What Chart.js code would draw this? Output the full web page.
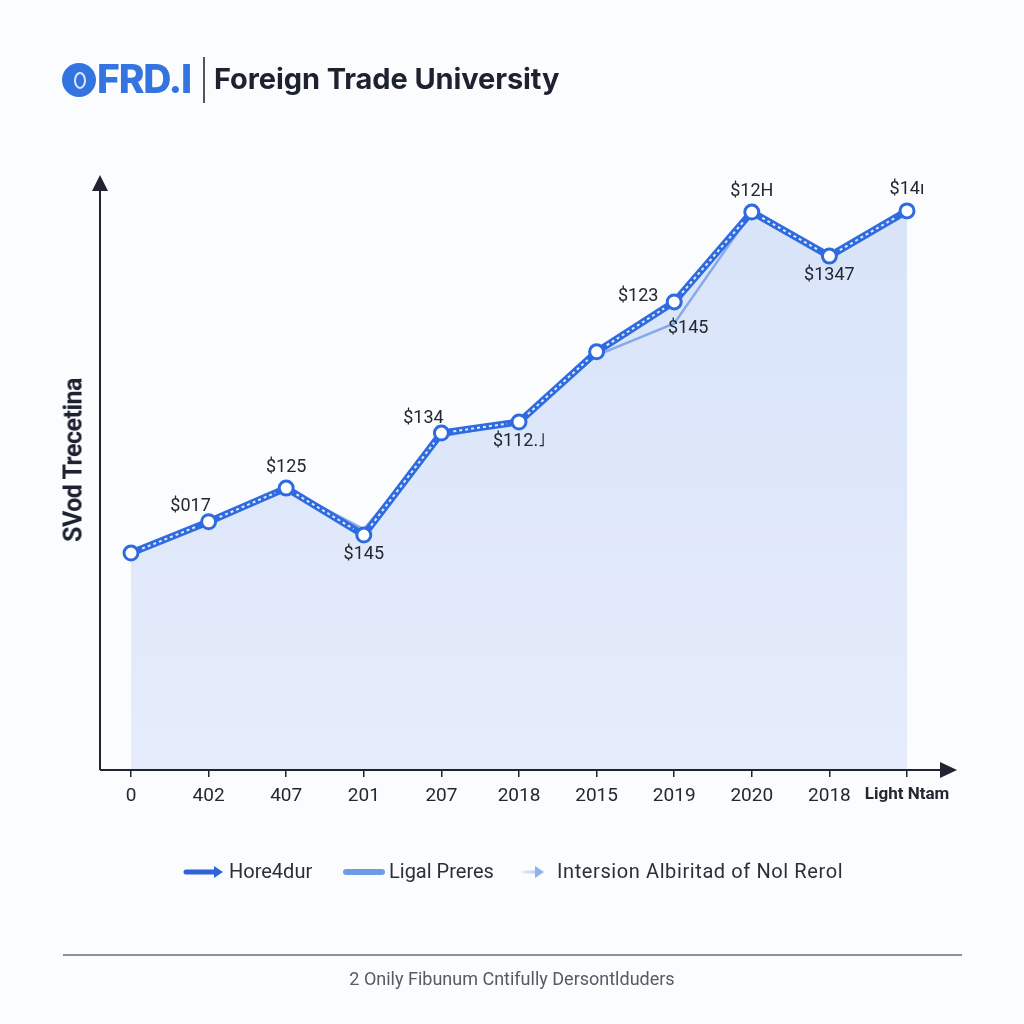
<!DOCTYPE html>
<html>
<head>
<meta charset="utf-8">
<script src="https://cdn.jsdelivr.net/npm/chart.js@4/dist/chart.umd.min.js"></script>
<style>
  html, body { margin: 0; padding: 0; background: #fbfcfe; }
  #wrap { position: relative; width: 1024px; height: 1024px; overflow: hidden; font-family: Roboto, "Noto Sans", sans-serif; }
  #chart { position: absolute; left: 0; top: 0; }
  .logo { position: absolute; left: 62px; top: 63px; width: 34px; height: 34px; border-radius: 50%; background: #3474e0; }
  .logo:after { content: ""; position: absolute; left: 12px; top: 9px; width: 8px; height: 13px; border-radius: 50%; border: 2px solid #dfe9fb; }
  .brand { position: absolute; left: 97px; top: 55px; font: 800 39px Inter, sans-serif; color: #3474e0; letter-spacing: -1.2px; }
  .divider { position: absolute; left: 203px; top: 57px; width: 1.5px; height: 46px; background: #555; }
  .title { position: absolute; left: 214px; top: 61px; font: 700 29px Inter, sans-serif; color: #1d2230; letter-spacing: -0.1px; }
  .ytitle { position: absolute; left: 73px; top: 460px; transform: translate(-50%, -50%) rotate(-90deg); font: 700 25px Roboto, sans-serif; color: #1d2230; white-space: nowrap; letter-spacing: -0.5px; }
  .legend { position: absolute; top: 859px; font-size: 20px; color: #2a2f3a; white-space: nowrap; }
  .footline { position: absolute; left: 63px; top: 954px; width: 899px; height: 1.5px; background: #8d9097; }
  .foot { position: absolute; left: 0; width: 1024px; top: 968px; text-align: center; font-size: 18px; color: #555a63; }
</style>
</head>
<body>
<div id="wrap">
  <canvas id="chart" width="1024" height="1024"></canvas>
  <div class="logo"></div>
  <div class="brand">FRD.I</div>
  <div class="divider"></div>
  <div class="title">Foreign Trade University</div>
  <div class="ytitle">SVod Trecetina</div>
  <canvas id="lg1" width="42" height="20" style="position:absolute;left:183px;top:862px"></canvas>
  <div class="legend" style="left:229px">Hore4dur</div>
  <canvas id="lg2" width="42" height="20" style="position:absolute;left:343px;top:862px"></canvas>
  <div class="legend" style="left:389px">Ligal Preres</div>
  <canvas id="lg3" width="26" height="20" style="position:absolute;left:520px;top:862px"></canvas>
  <div class="legend" style="left:557px;letter-spacing:0.6px">Intersion Albiritad of Nol Rerol</div>
  <div class="footline"></div>
  <div class="foot">2 Onily Fibunum Cntifully Dersontlduders</div>
</div>
<script>
const categories = ['0', '402', '407', '201', '207', '2018', '2015', '2019', '2020', '2018', 'Light Ntam'];
const hore4dur = [37.4, 42.8, 48.6, 40.5, 58.1, 60.0, 72.1, 80.7, 96.2, 88.6, 96.4];
const ligalPreres = [37.4, 42.8, 48.6, 41.5, 57.5, 60.0, 71.5, 77.0, 96.2, 88.6, 96.4];
const intersion = [null, null, null, null, null, null, null, 80.7, 96.2, null, null];
const pointLabels = ['', '$017', '$125', '$145', '$134', '$112.˩', '', '$123', '$12H', '$1347', '$14ı'];
const labelSide = ['', 'upleft', 'up', 'down', 'upleft', 'down', '', 'left', 'up', 'down', 'up'];
const extraLabels = ['', '', '', '', '', '', '', '$145', '', '', ''];

const BLUE = '#2f6be0';
const LIGHT = '#86aaec';

// arrow axes + dashes inside the main line + value labels
const decor = {
  id: 'decor',
  afterDatasetsDraw(chart) {
    const ctx = chart.ctx;
    const area = chart.chartArea;
    const left = 100, bottom = area.bottom, right = 955, top = 175;
    ctx.save();
    ctx.strokeStyle = '#1f2430';
    ctx.fillStyle = '#1f2430';
    ctx.lineWidth = 2;
    ctx.beginPath();
    ctx.moveTo(left, bottom); ctx.lineTo(left, top + 12);
    ctx.moveTo(left, bottom); ctx.lineTo(right - 14, bottom);
    ctx.stroke();
    ctx.beginPath();
    ctx.moveTo(left, top); ctx.lineTo(left - 8, top + 16); ctx.lineTo(left + 8, top + 16); ctx.closePath();
    ctx.fill();
    ctx.beginPath();
    ctx.moveTo(right + 2, bottom); ctx.lineTo(right - 15, bottom - 8); ctx.lineTo(right - 15, bottom + 8); ctx.closePath();
    ctx.fill();

    // white dashes inside the thick line
    const pts = chart.getDatasetMeta(0).data;
    ctx.strokeStyle = 'rgba(255,255,255,0.85)';
    ctx.lineWidth = 2;
    ctx.setLineDash([3, 3]);
    for (let i = 0; i < pts.length - 1; i++) {
      const a = pts[i], b = pts[i + 1];
      const dx = b.x - a.x, dy = b.y - a.y, len = Math.hypot(dx, dy);
      const ux = dx / len, uy = dy / len, r = 12;
      ctx.beginPath();
      ctx.moveTo(a.x + ux * r, a.y + uy * r);
      ctx.lineTo(b.x - ux * r, b.y - uy * r);
      ctx.stroke();
    }
    ctx.setLineDash([]);

    ctx.fillStyle = '#23272f';
    ctx.font = '18px Roboto, sans-serif';
    ctx.textAlign = 'center';
    ctx.textBaseline = 'middle';
    pts.forEach((p, i) => {
      const t = pointLabels[i];
      if (t) {
        let x = p.x, y = p.y;
        const s = labelSide[i];
        if (s === 'up') y -= 21;
        else if (s === 'down') y += 19;
        else if (s === 'upleft') { x -= 18; y -= 15; }
        else if (s === 'left') { x -= 36; y -= 5; }
        ctx.fillText(t, x, y);
      }
      if (extraLabels[i]) ctx.fillText(extraLabels[i], p.x + 14, p.y + 27);
    });
    ctx.restore();
  }
};

const ctx = document.getElementById('chart').getContext('2d');
const grad = ctx.createLinearGradient(0, 190, 0, 770);
grad.addColorStop(0, 'rgba(214,226,249,0.95)');
grad.addColorStop(1, 'rgba(228,235,251,0.95)');

new Chart(ctx, {
  type: 'line',
  data: {
    labels: categories,
    datasets: [
      {
        label: 'Hore4dur',
        data: hore4dur,
        borderColor: BLUE,
        borderWidth: 7,
        backgroundColor: grad,
        fill: 'origin',
        tension: 0,
        pointRadius: 7,
        pointBorderWidth: 3,
        pointBackgroundColor: '#ffffff',
        pointBorderColor: BLUE,
      },
      {
        label: 'Ligal Preres',
        data: ligalPreres,
        borderColor: LIGHT,
        borderWidth: 2.5,
        fill: false,
        tension: 0,
        pointRadius: 0,
      },
      {
        label: 'Intersion Albiritad of Nol Rerol',
        data: intersion,
        borderColor: '#4b7ddd',
        borderWidth: 2.5,
        borderDash: [2, 3],
        fill: false,
        spanGaps: false,
        pointRadius: 0,
      },
    ],
  },
  options: {
    responsive: false,
    animation: false,
    layout: {
      padding: { left: 131, right: 117, top: 190, bottom: 214 },
    },
    scales: {
      x: {
        offset: false,
        afterFit: (s) => { s.height = 40; },
        grid: {
          drawOnChartArea: false,
          drawTicks: true,
          tickLength: 7,
          color: '#1f2430',
          lineWidth: 1.5,
        },
        border: { display: false },
        ticks: {
          padding: 8,
          color: '#23272f',
          maxRotation: 0,
          autoSkip: false,
          font: (c) => c.index === 10
            ? { family: 'Roboto', size: 17, weight: 'bold' }
            : { family: 'Roboto', size: 19 },
        },
      },
      y: {
        display: false,
        min: 0,
        max: 100,
      },
    },
    plugins: {
      legend: { display: false },
      tooltip: { enabled: false },
      filler: { drawTime: 'beforeDatasetsDraw' },
    },
  },
  plugins: [decor],
});

// legend swatches
function swatch(id, color, width, arrow, fade) {
  const c = document.getElementById(id).getContext('2d');
  const w = c.canvas.width;
  if (fade) {
    const g = c.createLinearGradient(0, 0, w, 0);
    g.addColorStop(0, 'rgba(160,190,240,0.15)');
    g.addColorStop(1, color);
    c.strokeStyle = g;
  } else {
    c.strokeStyle = color;
  }
  c.fillStyle = color;
  c.lineWidth = width;
  c.lineCap = 'round';
  c.beginPath();
  c.moveTo(3, 10);
  c.lineTo(arrow ? w - 10 : w - 3, 10);
  c.stroke();
  if (arrow) {
    c.beginPath();
    c.moveTo(w - 2, 10); c.lineTo(w - 11, 4); c.lineTo(w - 11, 16); c.closePath();
    c.fill();
  }
}
swatch('lg1', '#2f63d8', 5, true, false);
swatch('lg2', '#6d9ce9', 6, false, false);
swatch('lg3', '#8fb2ee', 3, true, true);
</script>
</body>
</html>
